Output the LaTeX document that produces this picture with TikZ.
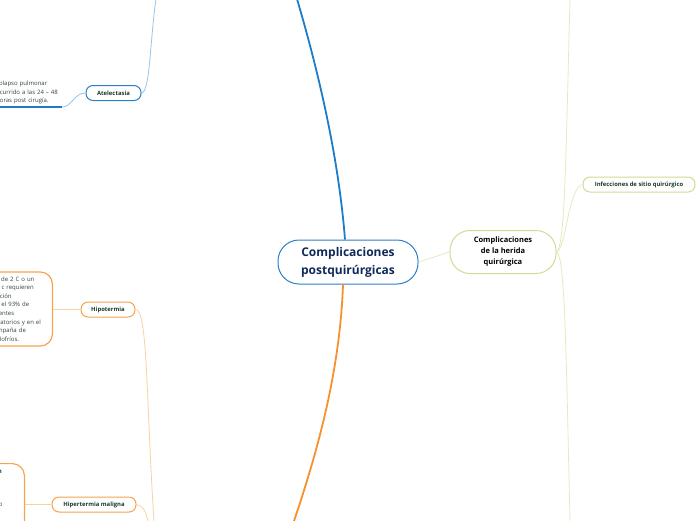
\documentclass[tikz,border=0pt]{standalone}
\usepackage{fontspec}
\setmainfont{Open Sans}
\definecolor{rootblue}{HTML}{2C7FC4}
\definecolor{roottext}{HTML}{0E2A5A}
\definecolor{branchblue}{HTML}{1C7CC9}
\definecolor{lightblue}{HTML}{93C7EA}
\definecolor{branchorange}{HTML}{F7912D}
\definecolor{boxorange}{HTML}{F7A24F}
\definecolor{lightorange}{HTML}{FBD0A2}
\definecolor{boxgreen}{HTML}{D3DA98}
\definecolor{lightgreen}{HTML}{E4E9BF}
\definecolor{darktext}{HTML}{1B3A2C}
\definecolor{notetext}{HTML}{33433B}

\begin{document}
\begin{tikzpicture}[x=1pt,y=-1pt,
    topic/.style={draw=#1,line width=1pt,rounded corners=7pt,fill=white,inner sep=0pt,minimum height=15pt,text=darktext,font=\fontsize{5.9}{7}\selectfont\bfseries},
    note/.style={align=left,inner sep=0pt,text=notetext,font=\fontsize{6}{8.6}\selectfont},
    link/.style={draw=#1,line width=0.8pt}]
    \useasboundingbox (0,0) rectangle (696,520);
    \node[draw=rootblue,line width=1pt,rounded corners=21pt,minimum width=140pt,minimum height=44pt,inner sep=0pt,align=center,text=roottext,font=\fontsize{12}{18}\selectfont\bfseries] (root) at (348,262) {Complicaciones\\postquirúrgicas};
    \node[draw=boxgreen,line width=1pt,rounded corners=20pt,minimum width=106pt,minimum height=43pt,inner sep=0pt,align=center,text=black,font=\fontsize{7.5}{11}\selectfont\bfseries] (herida) at (503,252) {Complicaciones\\de la herida\\quirúrgica};
    \node[topic=boxgreen,minimum width=112pt] (infec) at (639,184.5) {Infecciones de sitio quirúrgico};
    \node[topic=rootblue,minimum width=55pt] (atel) at (113.5,93) {Atelectasia};
    \node[topic=boxorange,minimum width=54pt] (hipo) at (108,309.5) {Hipotermia};
    \node[topic=boxorange,minimum width=84pt] (hiper) at (94,504.5) {Hipertermia maligna};
    \node[note,anchor=west,text width=65pt] (atelnote) at (-4,92.5) {colapso pulmonar\\ocurrido a las 24 – 48\\horas post cirugía.};
    \node[note,draw=boxorange,line width=1.2pt,rounded corners=12pt,anchor=east,text width=57pt,inner xsep=8pt,minimum height=74pt] (hiponote) at (53,309) {más de 2 C o un\\a 33 c requieren\\atención\\y en el 93\% de\\pacientes\\operatorios y en el\\acompaña de\\escalofríos.};
    \node[note,draw=boxorange,line width=1.2pt,rounded corners=12pt,anchor=north east,text width=45pt,inner xsep=8pt,inner ysep=5pt,text depth=70pt] (hipernote) at (25,463) {\textbf{\textcolor{darktext}{Definición}}\\[25pt]metabólico};
    \coordinate (blueup) at (297,-1);
    \coordinate (orangedown) at (294,521);
    \coordinate (atelup) at (156,-1);
    \coordinate (atelend) at (62,107);
    \coordinate (hipodown) at (154,521);
    \coordinate (hiperdown) at (148,521);
    \coordinate (greenup) at (570,-1);
    \coordinate (greendown) at (570,521);
    \draw[branchblue,line width=1.8pt] ([xshift=-3pt]root.north) .. controls (338,150) and (315,60) .. (blueup);
    \draw[branchorange,line width=1.8pt] ([xshift=-5pt]root.south) .. controls (340,370) and (318,450) .. (orangedown);
    \draw[link=lightgreen] (root.east) -- (herida.west);
    \draw[link=lightgreen] (herida.east) .. controls (566,250) and (568,188) .. (infec.west);
    \draw[link=lightgreen] (herida.east) .. controls (565,250) and (566,150) .. (greenup);
    \draw[link=lightgreen] (herida.east) .. controls (565,254) and (566,350) .. (greendown);
    \draw[link=lightblue] (atel.east) .. controls (150,93) and (150,40) .. (atelup);
    \draw[link=lightblue] (atel.west) .. controls (74,93) and (72,107) .. (atelend);
    \draw[branchblue,line width=1.5pt] (atelend) -- ++(-70,0);
    \draw[link=lightorange] (hipo.west) -- (hipo.west -| hiponote.east);
    \draw[link=lightorange] (hipo.east) .. controls (148,309) and (146,400) .. (hipodown);
    \draw[link=lightorange] (hiper.west) -- (hiper.west -| hipernote.east);
    \draw[link=lightorange] (hiper.east) .. controls (143,505) and (146,512) .. (hiperdown);
\end{tikzpicture}
\end{document}
